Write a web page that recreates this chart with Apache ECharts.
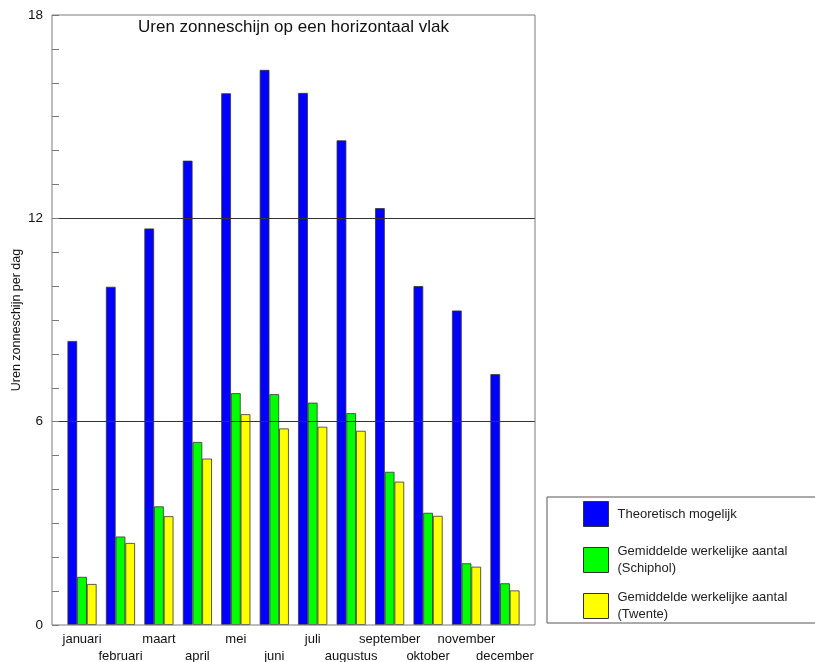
<!DOCTYPE html>
<html>
<head>
<meta charset="utf-8">
<script src="https://cdn.jsdelivr.net/npm/echarts@6/dist/echarts.min.js"></script>
<style>
html,body{margin:0;padding:0;background:#fff;}
#chart{width:815px;height:662px;}
</style>
</head>
<body>
<div id="chart"></div>
<script>
const months = ['januari','februari','maart','april','mei','juni','juli','augustus','september','oktober','november','december'];
const seriesNames = ['Theoretisch mogelijk','Gemiddelde werkelijke aantal (Schiphol)','Gemiddelde werkelijke aantal (Twente)'];
const theoretisch = [8.38, 9.98, 11.70, 13.70, 15.69, 16.38, 15.70, 14.30, 12.30, 10.00, 9.28, 7.40];
const schiphol = [1.42, 2.61, 3.50, 5.40, 6.84, 6.81, 6.56, 6.25, 4.52, 3.31, 1.82, 1.23];
const twente = [1.21, 2.42, 3.21, 4.91, 6.22, 5.80, 5.85, 5.73, 4.23, 3.22, 1.72, 1.02];
const yTickLabels = [0, 6, 12, 18];
const titleText = 'Uren zonneschijn op een horizontaal vlak';
const yAxisTitle = 'Uren zonneschijn per dag';

const FONT = 'Liberation Sans, Arial, sans-serif';
const colors = ['#0000ff', '#00ff00', '#ffff00'];
const values = [theoretisch, schiphol, twente];

const chart = echarts.init(document.getElementById('chart'));

const legendTops = [501, 543, 589];
const legends = seriesNames.map((n, i) => ({
  data: [n],
  orient: 'vertical',
  left: 583,
  top: legendTops[i],
  padding: 0,
  itemWidth: 25,
  itemHeight: 25,
  selectedMode: false,
  icon: 'rect',
  itemStyle: {borderColor: '#333', borderWidth: 1},
  formatter: name => name.replace(' (', '\n('),
  textStyle: {fontFamily: FONT, fontSize: 13, color: '#222', lineHeight: 17, padding: [0, 0, 0, 4]}
}));

chart.setOption({
  animation: false,
  title: {
    text: titleText,
    left: 293.5,
    textAlign: 'center',
    top: 19,
    padding: 0,
    textStyle: {fontFamily: FONT, fontSize: 17, fontWeight: 'normal', color: '#111'}
  },
  legend: legends,
  grid: [
    {left: 62.8, right: 290.8, top: 15, bottom: 37, containLabel: false, outerBoundsMode: 'none'},
    {left: 52, right: 280, top: 15, bottom: 37, containLabel: false, outerBoundsMode: 'none',
     show: true, borderColor: '#7a7a7a', borderWidth: 1, backgroundColor: 'transparent', z: 6}
  ],
  xAxis: [
    {
      type: 'category', gridIndex: 0, data: months, boundaryGap: true,
      axisLine: {show: false}, axisTick: {show: false},
      axisLabel: {
        interval: 0, margin: 6, fontFamily: FONT, fontSize: 13, color: '#111', lineHeight: 17,
        formatter: (v, i) => (i % 2 === 1 ? '\n' + v : v)
      }
    },
    {type: 'value', gridIndex: 1, min: 0, max: 1, show: false}
  ],
  yAxis: [
    {type: 'value', gridIndex: 0, min: 0, max: 18, show: false},
    {
      type: 'value', gridIndex: 1, min: 0, max: 18, interval: 6, position: 'left', z: 5,
      axisLine: {show: false}, axisTick: {show: false},
      axisLabel: {margin: 9, fontFamily: FONT, fontSize: 13.5, color: '#111',
        formatter: v => (yTickLabels.indexOf(v) >= 0 ? String(v) : '')},
      splitLine: {show: true, showMinLine: false, showMaxLine: false, lineStyle: {color: '#333', width: 1}},
      name: yAxisTitle, nameLocation: 'middle', nameRotate: 90, nameGap: 35, nameMoveOverlap: false,
      nameTextStyle: {fontFamily: FONT, fontSize: 12.5, color: '#111', verticalAlign: 'middle', align: 'center'}
    },
    {
      type: 'value', gridIndex: 1, min: 0, max: 18, interval: 1, position: 'left', z: 5,
      axisLine: {show: false},
      axisTick: {show: true, inside: true, length: 7, lineStyle: {color: '#7a7a7a'}},
      axisLabel: {show: false}, splitLine: {show: false}
    }
  ],
  series: seriesNames.map((n, i) => ({
    name: n,
    type: 'bar',
    xAxisIndex: 0,
    yAxisIndex: 0,
    data: values[i],
    barWidth: 9.7,
    barGap: '0%',
    itemStyle: {color: colors[i], borderColor: '#333', borderWidth: 0.8}
  })),
  graphic: [
    {type: 'rect', shape: {x: 547, y: 497, width: 280, height: 126},
     style: {fill: 'none', stroke: '#555', lineWidth: 1}, z: 1}
  ]
});
</script>
</body>
</html>
